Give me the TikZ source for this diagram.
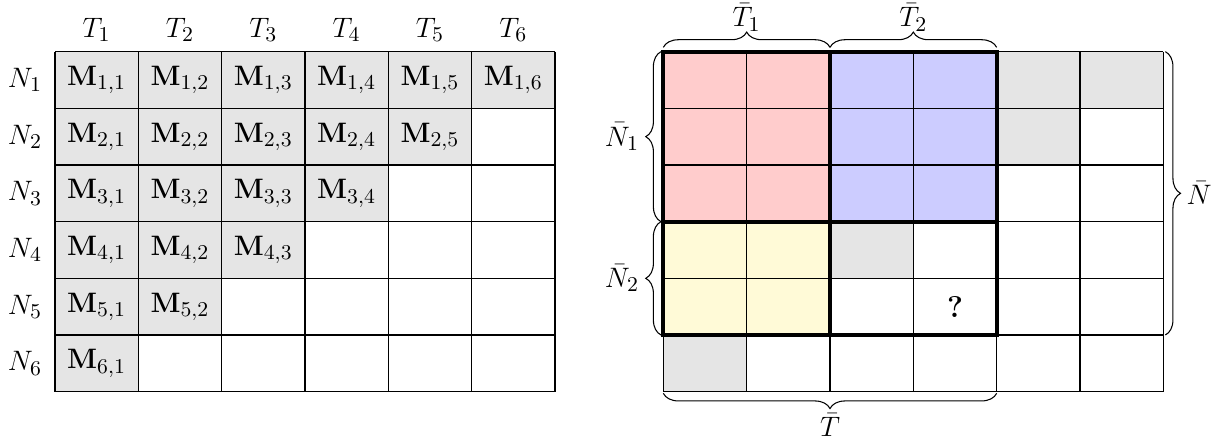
\documentclass[tikz,border=0pt]{standalone}
\usetikzlibrary{decorations.pathreplacing}
\definecolor{cellred}{RGB}{255,204,204}
\definecolor{cellblue}{RGB}{204,204,255}
\definecolor{cellyellow}{RGB}{255,250,215}
\definecolor{cellgray}{RGB}{229,229,229}
\tikzset{
  gridline/.style={line width=0.45pt},
  blockline/.style={line width=1.7pt},
  bracedeco/.style={decorate,decoration={brace,amplitude=6.5pt},line width=0.45pt},
  lbl/.style={inner sep=0pt,font=\fontsize{12.8}{15}\selectfont},
  entry/.style={inner sep=0pt,font=\fontsize{12.8}{15}\selectfont},
}
\begin{document}
\begin{tikzpicture}[x=1cm,y=1cm]
\useasboundingbox (0,0) rectangle (18.405,-6.675);
\def\lx{0.825}\def\ty{-0.775}\def\cw{1.25}\def\ch{0.85}
% ---------- left grid ----------
\foreach \i in {1,...,6}{
  \pgfmathtruncatemacro{\jmax}{7-\i}
  \foreach \j in {1,...,\jmax}{
    \fill[cellgray] ({\lx+(\j-1)*\cw},{\ty-(\i-1)*\ch}) rectangle ++(\cw,-\ch);
  }
}
\foreach \k in {0,...,6}{
  \draw[gridline] ({\lx+\k*\cw},\ty) -- ++(0,{-6*\ch});
  \draw[gridline] (\lx,{\ty-\k*\ch}) -- ++({6*\cw},0);
}
\foreach \j in {1,...,6}{
  \node[lbl] (T\j) at ({\lx+(\j-0.5)*\cw},-0.45) {$T_{\j}$};
  \node[lbl] (N\j) at (0.375,{\ty-(\j-0.5)*\ch}) {$N_{\j}$};
}
\foreach \i in {1,...,6}{
  \pgfmathtruncatemacro{\jmax}{7-\i}
  \foreach \j in {1,...,\jmax}{
    \node[entry] (M\i\j) at ({\lx+(\j-0.5)*\cw},{\ty-(\i-0.5)*\ch}) {$\mathbf{M}_{\i,\j}$};
  }
}
% ---------- right grid ----------
\def\rx{9.95}
\fill[cellred] (\rx,\ty) rectangle ++(2*\cw,-3*\ch);
\fill[cellblue] ({\rx+2*\cw},\ty) rectangle ++(2*\cw,-3*\ch);
\fill[cellyellow] (\rx,{\ty-3*\ch}) rectangle ++(2*\cw,-2*\ch);
\fill[cellgray] ({\rx+4*\cw},\ty) rectangle ++(2*\cw,-\ch);
\fill[cellgray] ({\rx+4*\cw},{\ty-\ch}) rectangle ++(\cw,-\ch);
\fill[cellgray] ({\rx+2*\cw},{\ty-3*\ch}) rectangle ++(\cw,-\ch);
\fill[cellgray] (\rx,{\ty-5*\ch}) rectangle ++(\cw,-\ch);
\foreach \k in {0,...,6}{
  \draw[gridline] ({\rx+\k*\cw},\ty) -- ++(0,{-6*\ch});
  \draw[gridline] (\rx,{\ty-\k*\ch}) -- ++({6*\cw},0);
}
\coordinate (A) at (\rx,\ty);
\coordinate (B) at ({\rx+2*\cw},{\ty-3*\ch});
\coordinate (Bt) at ({\rx+2*\cw},\ty);
\coordinate (C) at ({\rx+4*\cw},{\ty-3*\ch});
\coordinate (E) at (\rx,{\ty-3*\ch});
\coordinate (D) at ({\rx+2*\cw},{\ty-5*\ch});
\coordinate (F) at ({\rx+4*\cw},{\ty-5*\ch});
\draw[blockline] (A) rectangle (B);
\draw[blockline] (Bt) rectangle (C);
\draw[blockline] (E) rectangle (D);
\draw[blockline] (B) rectangle (F);
\node[entry] (Q) at ({\rx+3.5*\cw},{\ty-4.5*\ch}) {\textbf{?}};
% braces
\draw[bracedeco] (\rx,-0.71) -- ({\rx+2*\cw},-0.71);
\draw[bracedeco] ({\rx+2*\cw},-0.71) -- ({\rx+4*\cw},-0.71);
\draw[bracedeco] (9.915,{\ty-3*\ch}) -- (9.915,\ty);
\draw[bracedeco] (9.915,{\ty-5*\ch}) -- (9.915,{\ty-3*\ch});
\draw[bracedeco] (17.48,\ty) -- (17.48,{\ty-5*\ch});
\draw[bracedeco] ({\rx+4*\cw},-5.9) -- (\rx,-5.9);
\node[lbl] (Tb1) at ({\rx+1*\cw},-0.2625) {$\bar{T}_1$};
\node[lbl] (Tb2) at ({\rx+3*\cw},-0.2625) {$\bar{T}_2$};
\node[lbl] (Nb1) at (9.33,{\ty-1.5*\ch}) {$\bar{N}_1$};
\node[lbl] (Nb2) at (9.33,{\ty-4*\ch}) {$\bar{N}_2$};
\node[lbl] (Nb) at (17.985,{\ty-2.5*\ch}) {$\bar{N}$};
\node[lbl] (Tb) at ({\rx+2*\cw},-6.375) {$\bar{T}$};
\end{tikzpicture}
\end{document}
